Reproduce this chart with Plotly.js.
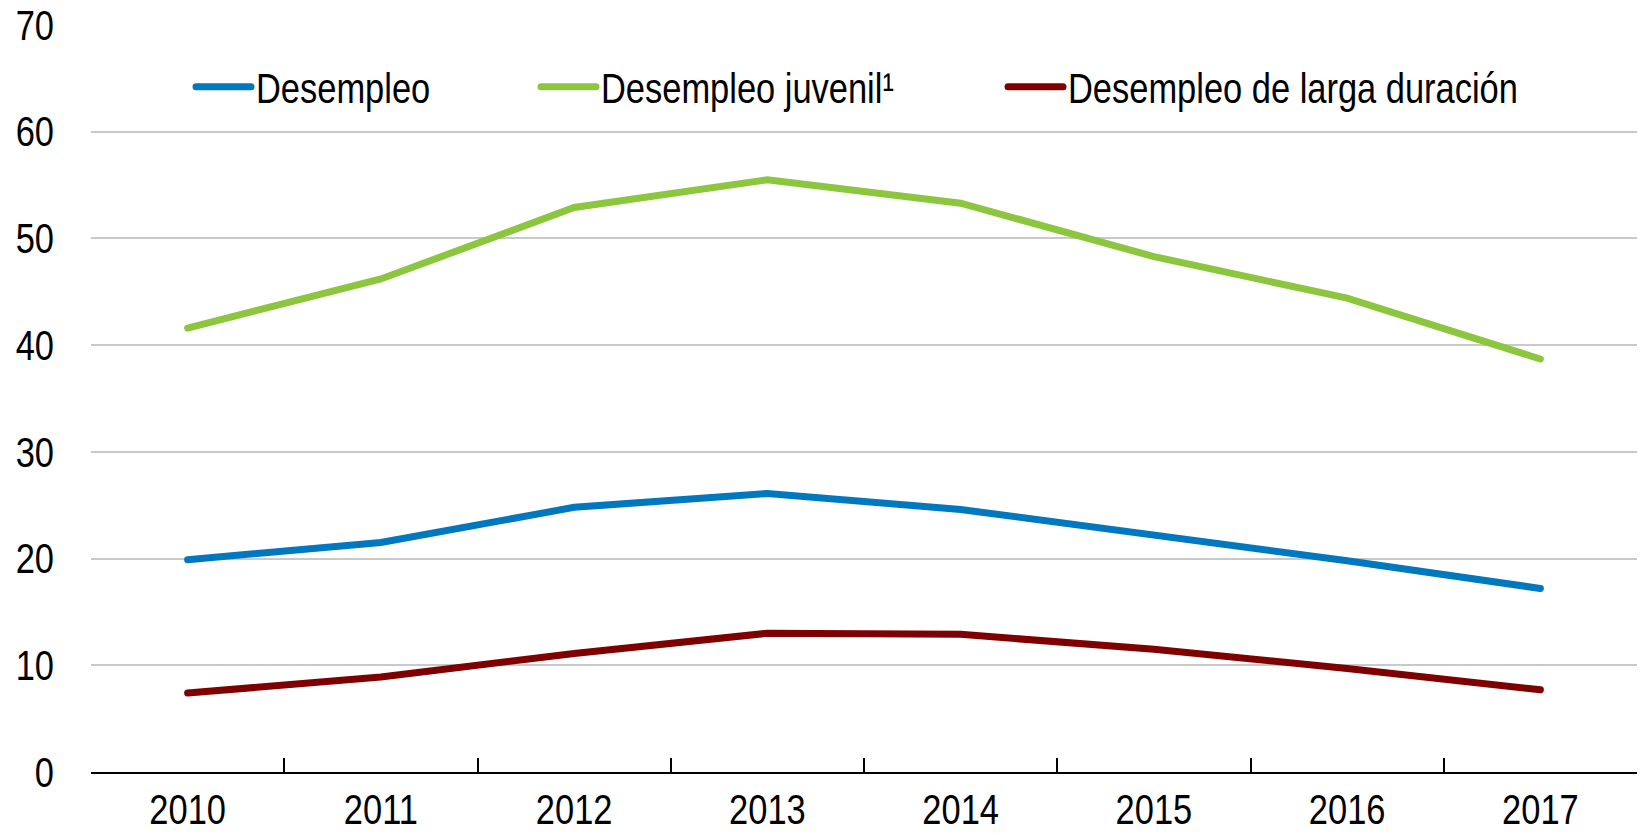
<!DOCTYPE html>
<html>
<head>
<meta charset="utf-8">
<script src="https://cdn.plot.ly/plotly-3.0.1.min.js"></script>
<style>
  html, body { margin: 0; padding: 0; background: #ffffff; }
  #chart { width: 1642px; height: 835px; }
  #chart .scatterlayer path.js-line,
  #chart .legendlines path.js-line { stroke-linecap: round; }
</style>
</head>
<body>
<div id="chart"></div>
<script>
// Data (%)
const years = ["2010", "2011", "2012", "2013", "2014", "2015", "2016", "2017"];
const desempleo = [19.9, 21.5, 24.8, 26.1, 24.6, 22.2, 19.8, 17.2];
const desempleoJuvenil = [41.6, 46.2, 52.9, 55.5, 53.3, 48.3, 44.4, 38.7];
const desempleoLarga = [7.4, 8.9, 11.1, 13.0, 12.9, 11.5, 9.7, 7.7];
const seriesNames = ["Desempleo", "Desempleo juvenil\u00b9", "Desempleo de larga duración"];
const yTicks = [0, 10, 20, 30, 40, 50, 60, 70];

const FONT = "'Liberation Sans Narrow', 'Arial Narrow', 'Liberation Sans', Arial, sans-serif";
const colors = ["#0078C0", "#8CC63F", "#7F0000"];

const traces = [
  { x: years, y: desempleo, name: seriesNames[0], legend: "legend" },
  { x: years, y: desempleoJuvenil, name: seriesNames[1], legend: "legend2" },
  { x: years, y: desempleoLarga, name: seriesNames[2], legend: "legend3" }
].map((t, i) => Object.assign(t, {
  type: "scatter",
  mode: "lines",
  line: { color: colors[i], width: 7 },
  hoverinfo: "x+y+name"
}));

function legendAt(xpx) {
  return {
    x: xpx / 1642, xref: "container", xanchor: "left",
    y: 1 - 87 / 835, yref: "container", yanchor: "middle",
    orientation: "h",
    bgcolor: "rgba(0,0,0,0)", borderwidth: 0,
    itemwidth: 55,
    font: { family: FONT, size: 42, color: "#000000" }
  };
}

const layout = {
  width: 1642, height: 835,
  margin: { l: 91, r: 5, t: 25, b: 63, pad: 0, autoexpand: false },
  paper_bgcolor: "#ffffff",
  plot_bgcolor: "#ffffff",
  font: { family: FONT, size: 42, color: "#000000" },
  showlegend: true,
  legend: legendAt(191),
  legend2: legendAt(536),
  legend3: legendAt(1003),
  xaxis: {
    type: "category",
    range: [-0.5, 7.5],
    tickson: "boundaries",
    ticks: "inside",
    ticklen: 14,
    tickwidth: 1.5,
    tickcolor: "#000000",
    showline: true,
    linecolor: "#000000",
    linewidth: 1.5,
    showgrid: false,
    zeroline: false,
    tickfont: { family: FONT, size: 42, color: "#000000" },
    fixedrange: true
  },
  yaxis: {
    range: [0, 70],
    tickmode: "array",
    tickvals: yTicks,
    ticktext: yTicks.map(String),
    ticks: "",
    showline: false,
    showgrid: true,
    gridcolor: "#c9c9c9",
    gridwidth: 1.5,
    zeroline: false,
    ticklabelstandoff: 36,
    tickfont: { family: FONT, size: 42, color: "#000000" },
    fixedrange: true
  }
};

// Condense text horizontally (Arial Narrow look) when no narrow face is installed
function condenseText(gd) {
  gd.querySelectorAll("svg text").forEach(function (t) {
    if (t.getAttribute("data-condensed")) return;
    var len = t.getComputedTextLength();
    if (len > 0) {
      t.setAttribute("textLength", (len * 0.82).toFixed(2));
      t.setAttribute("lengthAdjust", "spacingAndGlyphs");
      t.setAttribute("data-condensed", "1");
    }
  });
}

Plotly.newPlot("chart", traces, layout, { displayModeBar: false }).then(function (gd) {
  condenseText(gd);
});
</script>
</body>
</html>
